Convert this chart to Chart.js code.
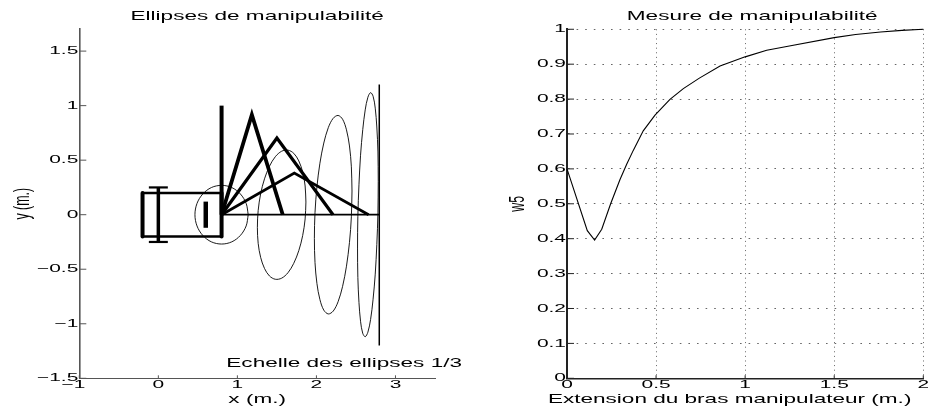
<!DOCTYPE html>
<html><head><meta charset="utf-8">
<script src="https://cdn.jsdelivr.net/npm/chart.js@4"></script>
<style>
html,body{margin:0;padding:0;background:#fff;overflow:hidden}
canvas{position:absolute;top:0}
#wrapL,#wrapR{position:absolute;top:0;width:464px;height:407px}
#wrapL{left:0}#wrapR{left:464px}
</style></head><body>
<div id="wrapL"><canvas id="L"></canvas></div>
<div id="wrapR"><canvas id="R"></canvas></div>
<script>
const bodyRearV=[[-0.2,-0.2],[-0.2,0.2]];
const bodyTop=[[-0.2,0.2],[0.8,0.2]];
const bodyBottom=[[-0.2,-0.2],[0.8,-0.2]];
const bodyFront=[[0.8,-0.2],[0.8,0.2]];
const rearAxle=[[0,-0.25],[0,0.25]];
const rearWheelTop=[[-0.12,0.25],[0.12,0.25]];
const rearWheelBottom=[[-0.12,-0.25],[0.12,-0.25]];
const frontBar=[[0.6,-0.12],[0.6,0.12]];
const armUp=[[0.8,0],[0.8,1]];
const armA=[[0.8,0],[1.183,0.917],[1.574,0]];
const armB=[[0.8,0],[1.5,0.703],[2.21,0]];
const armC=[[0.8,0],[1.72,0.382],[2.66,0]];
const armFlat=[[0.8,0],[2.8,0]];
const limitLine=[[2.795,-1.2],[2.795,1.193]];
const ellipse1=[[1.137,0],[1.111,.103],[1.038,.19],[.929,.249],[.8,.269],[.671,.249],[.562,.19],[.489,.103],[.463,0],[.489,-.103],[.562,-.19],[.671,-.249],[.8,-.269],[.929,-.249],[1.038,-.19],[1.111,-.103],[1.137,0]];
const ellipse2=[[1.867,.116],[1.857,.263],[1.826,.391],[1.777,.493],[1.714,.562],[1.64,.592],[1.56,.582],[1.48,.532],[1.407,.446],[1.343,.329],[1.294,.191],[1.263,.039],[1.253,-.116],[1.263,-.263],[1.294,-.391],[1.343,-.493],[1.406,-.562],[1.48,-.592],[1.56,-.582],[1.64,-.532],[1.713,-.446],[1.777,-.329],[1.826,-.191],[1.857,-.039],[1.867,.116]];
const ellipse3=[[2.45,.217],[2.442,.439],[2.418,.63],[2.38,.778],[2.331,.875],[2.274,.91],[2.212,.884],[2.15,.798],[2.093,.657],[2.044,.472],[2.006,.254],[1.982,.019],[1.974,-.217],[1.982,-.439],[2.006,-.63],[2.044,-.778],[2.093,-.875],[2.15,-.91],[2.212,-.884],[2.274,-.798],[2.331,-.657],[2.38,-.472],[2.418,-.254],[2.442,-.019],[2.45,.217]];
const ellipse4=[[2.782,.306],[2.778,.575],[2.764,.804],[2.744,.977],[2.717,1.086],[2.685,1.119],[2.651,1.077],[2.617,.961],[2.586,.78],[2.558,.545],[2.538,.274],[2.524,-.017],[2.52,-.306],[2.524,-.575],[2.538,-.804],[2.558,-.977],[2.585,-1.086],[2.617,-1.119],[2.651,-1.077],[2.685,-.961],[2.716,-.78],[2.744,-.545],[2.764,-.274],[2.778,.017],[2.782,.306]];
const extension=[0,.114,.155,.195,.245,.297,.335,.372,.428,.494,.578,.653,.743,.859,1,1.121,1.248,1.5,1.62,1.76,1.88,2];
const manip=[.6,.423,.396,.427,.5,.569,.613,.653,.709,.754,.799,.83,.86,.895,.921,.94,.952,.976,.985,.992,.997,1];
const leftXTicks=[-1,0,1,2,3];
const leftYTicks=[-1.5,-1,-0.5,0,0.5,1,1.5];
const rightXTicks=[0,0.5,1,1.5,2];
const rightYTicks=[0,.1,.2,.3,.4,.5,.6,.7,.8,.9,1];
const titleLeft="Ellipses de manipulabilité";
const titleRight="Mesure de manipulabilité";
const xLabelRight="Extension du bras manipulateur (m.)";
const noteText="Echelle des ellipses 1/3";

const FONT="'Liberation Sans'";
const SX=1.82;
const LABEL_SIZE=12.4, TICK_SIZE=11.5;
const pts=a=>a.map(p=>({x:p[0],y:p[1]}));
const fmt=v=>String(v).replace('-','\u2212');
const textShift={[titleRight]:7,[xLabelRight]:-15.5};

const stretchText={id:'stretchText',beforeInit(chart){
  const ctx=chart.ctx,orig=ctx.fillText.bind(ctx);
  ctx.fillText=function(t,x,y,w){
    const m=ctx.getTransform(),p=m.transformPoint(new DOMPoint(x,y));
    const dx=textShift[t]||0;
    ctx.save();
    ctx.setTransform(new DOMMatrix().translate(p.x+dx,p.y).scale(SX,1).translate(-p.x,-p.y).multiply(m));
    orig(t,x,y);
    ctx.restore();
  };
}};
const inwardTicks={id:'inwardTicks',afterDatasetsDraw(chart,a,o){
  const c=chart.ctx,xs=chart.scales.x,ys=chart.scales.y,ar=chart.chartArea;
  c.save();c.strokeStyle=o.color;c.lineWidth=1;c.beginPath();
  xs.ticks.forEach(t=>{const p=xs.getPixelForValue(t.value);c.moveTo(p,ar.bottom);c.lineTo(p,ar.bottom-o.xLen);});
  ys.ticks.forEach(t=>{const p=ys.getPixelForValue(t.value);c.moveTo(ar.left,p);c.lineTo(ar.left+o.yLen,p);});
  c.stroke();c.restore();
}};
const note={id:'note',afterDraw(chart,a,o){
  if(!o.text)return;
  const c=chart.ctx;c.save();c.font=LABEL_SIZE+'px '+FONT;c.fillStyle='#000';c.textAlign='left';c.textBaseline='middle';
  c.fillText(o.text,chart.scales.x.getPixelForValue(o.x),chart.scales.y.getPixelForValue(o.y));c.restore();
}};

function mk(id,cfg){
  return new Chart(document.getElementById(id),{type:'scatter',data:{datasets:cfg.datasets},plugins:[stretchText,inwardTicks,note],options:{
    responsive:false,animation:false,devicePixelRatio:1,
    layout:{padding:{left:0,right:cfg.padRight,top:0,bottom:0}},
    elements:{point:{radius:0},line:{borderColor:'#000',fill:false}},
    plugins:{legend:{display:false},tooltip:{enabled:false},
      title:{display:true,fullSize:false,text:cfg.title,color:'#000',font:{family:FONT,size:LABEL_SIZE,weight:'normal',lineHeight:1.2},padding:{top:9.5,bottom:4.9}},
      inwardTicks:{xLen:cfg.xLen,yLen:cfg.yLen,color:cfg.axisColor},note:cfg.note||{}},
    scales:{
      x:{type:'linear',min:cfg.xMin,max:cfg.xMax,
        afterBuildTicks:s=>{s.ticks=cfg.xTicks.map(v=>({value:v}));},
        afterFit:s=>{s.height=407-cfg.bottom;s.paddingLeft=0;s.paddingRight=0;},
        title:{display:true,text:cfg.xTitle,color:'#000',font:{family:FONT,size:LABEL_SIZE},padding:{top:0,bottom:0}},
        ticks:{color:'#000',font:{family:FONT,size:TICK_SIZE},padding:0,maxRotation:0,autoSkip:false,callback:cfg.xFmt||fmt},
        border:{display:true,color:cfg.axisColor,width:cfg.xAxisW,dash:[1,3.6]},
        grid:cfg.grid?{display:true,drawTicks:false,color:'#666',lineWidth:1}:{display:false,drawTicks:false}},
      y:{type:'linear',min:cfg.yMin,max:cfg.yMax,
        afterBuildTicks:s=>{s.ticks=cfg.yTicks.map(v=>({value:v}));},
        afterFit:s=>{s.width=cfg.left;s.paddingTop=0;s.paddingBottom=0;},
        title:{display:true,text:cfg.yTitle,color:'#000',font:{family:FONT,size:LABEL_SIZE},padding:{top:cfg.yTitlePad,bottom:0}},
        ticks:{color:'#000',font:{family:FONT,size:TICK_SIZE},padding:1,autoSkip:false,callback:fmt},
        border:{display:true,color:cfg.axisColor,width:cfg.yAxisW,dash:[1.6,7]},
        grid:cfg.grid?{display:true,drawTicks:false,color:'#666',lineWidth:1}:{display:false,drawTicks:false}}
    }}});
}
const ln=(d,w,t,cap)=>({data:pts(d),showLine:true,borderWidth:w,tension:t||0,borderColor:'#000',pointRadius:0,clip:false,borderJoinStyle:'miter',borderCapStyle:cap||'butt'});
document.getElementById('L').width=464;document.getElementById('L').height=407;
document.getElementById('R').width=464;document.getElementById('R').height=407;

mk('L',{title:titleLeft,xTitle:'x (m.)',yTitle:'y (m.)',yTitlePad:15,xMin:-1,xMax:3.5,yMin:-1.5,yMax:1.7,
  xTicks:leftXTicks,yTicks:leftYTicks,left:79.3,bottom:378.3,padRight:29,xLen:3,yLen:7,grid:false,axisColor:'#555',xAxisW:1,yAxisW:1.6,
  xFmt:v=>v===-1?'\u22121  ':fmt(v),
  note:{text:noteText,x:0.86,y:-1.365},
  datasets:[
    ln(bodyRearV,4,0,'round'),ln(bodyFront,4,0,'round'),ln(bodyTop,2.5,0,'round'),ln(bodyBottom,2.5,0,'round'),ln(rearAxle,3.5),ln(rearWheelTop,2.2),ln(rearWheelBottom,2.2),ln(frontBar,4.5),
    ln(armUp,4),ln(armA,3.8),ln(armB,3.2),ln(armC,2.8),ln(armFlat,1.8),ln(limitLine,1.5),
    ln(ellipse1,.9,.34),ln(ellipse2,.9,.33),ln(ellipse3,.9,.33),ln(ellipse4,.9,.33)
  ]});
mk('R',{title:titleRight,xTitle:xLabelRight,yTitle:'w5',yTitlePad:46,xMin:0,xMax:2,yMin:0,yMax:1,
  xTicks:rightXTicks,yTicks:rightYTicks,left:103,bottom:378.3,padRight:4.7,xLen:3,yLen:7,grid:true,axisColor:'#222',xAxisW:1.5,yAxisW:2,
  datasets:[{data:extension.map((x,i)=>({x,y:manip[i]})),showLine:true,borderWidth:1.1,borderColor:'#000',pointRadius:0,tension:0,clip:false}]});
</script></body></html>
